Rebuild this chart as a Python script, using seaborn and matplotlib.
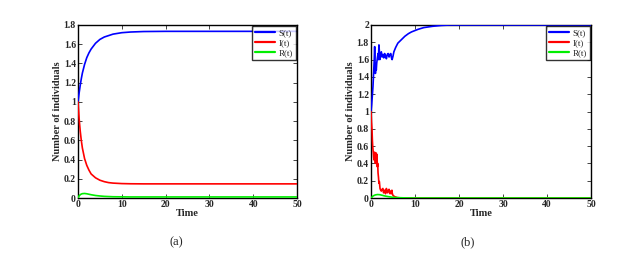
import numpy as np
import pandas as pd
import matplotlib
matplotlib.use("Agg")
import matplotlib.pyplot as plt
import seaborn as sns

# -----------------------------
# DATA
# -----------------------------
t_a = [0, 0.25, 0.5, 0.75, 1, 1.5, 2, 2.5, 3, 4, 5, 6, 7, 8, 10, 12, 15, 20, 30, 40, 50]
S_a = [1.0, 1.09, 1.17, 1.24, 1.30, 1.39, 1.46, 1.51, 1.55, 1.61, 1.65, 1.675, 1.69, 1.705, 1.72,
       1.727, 1.732, 1.734, 1.734, 1.734, 1.734]
I_a = [1.0, 0.83, 0.70, 0.60, 0.52, 0.41, 0.34, 0.29, 0.25, 0.21, 0.185, 0.17, 0.16, 0.155, 0.15,
       0.148, 0.147, 0.147, 0.147, 0.147, 0.147]
R_a = [0.0, 0.022, 0.034, 0.041, 0.045, 0.047, 0.044, 0.039, 0.034, 0.026, 0.021, 0.017, 0.015, 0.013,
       0.012, 0.011, 0.011, 0.011, 0.011, 0.011, 0.011]

tS_b = [0, 0.15, 0.3, 0.45, 0.6, 0.75, 0.83, 0.92, 1.0, 1.1, 1.2, 1.3, 1.45, 1.6, 1.7, 1.8, 1.9, 2.0,
        2.15, 2.35, 2.5, 2.7, 2.9, 3.1, 3.3, 3.5, 3.7, 3.9, 4.1, 4.3, 4.5, 4.65, 4.8, 5.0, 5.2, 5.6,
        6.1, 6.9, 7.7, 8.5, 9.2, 10.7, 12, 14, 16, 18, 20, 30, 40, 50]
S_b = [1.0, 1.08, 1.18, 1.29, 1.45, 1.62, 1.75, 1.58, 1.44, 1.52, 1.48, 1.56, 1.62, 1.67, 1.60, 1.77,
       1.70, 1.60, 1.66, 1.69, 1.63, 1.66, 1.62, 1.67, 1.64, 1.61, 1.66, 1.67, 1.63, 1.66, 1.67, 1.62,
       1.60, 1.64, 1.69, 1.74, 1.79, 1.83, 1.87, 1.90, 1.92, 1.95, 1.97, 1.985, 1.995, 2.0, 2.0, 2.0,
       2.0, 2.0]

tI_b = [0, 0.1, 0.23, 0.32, 0.4, 0.47, 0.53, 0.6, 0.68, 0.76, 0.83, 0.92, 1.0, 1.08, 1.15, 1.2, 1.3,
        1.37, 1.44, 1.52, 1.6, 1.7, 1.8, 1.9, 2.05, 2.2, 2.35, 2.5, 2.7, 2.85, 3.0, 3.1, 3.3, 3.5,
        3.6, 3.8, 3.9, 4.1, 4.3, 4.45, 4.6, 4.75, 4.8, 5.0, 5.4, 6.0, 7.0, 50]
I_b = [1.0, 0.88, 0.79, 0.66, 0.59, 0.55, 0.52, 0.47, 0.44, 0.49, 0.53, 0.45, 0.40, 0.46, 0.42, 0.52,
       0.44, 0.50, 0.36, 0.40, 0.29, 0.24, 0.17, 0.19, 0.11, 0.09, 0.08, 0.10, 0.11, 0.06, 0.07, 0.09,
       0.05, 0.11, 0.07, 0.06, 0.09, 0.10, 0.05, 0.08, 0.05, 0.09, 0.06, 0.03, 0.015, 0.005, 0.0, 0.0]

tR_b = [0, 0.5, 1, 1.5, 2, 2.5, 3, 4, 5, 6, 8, 10, 50]
R_b = [0.0, 0.025, 0.036, 0.04, 0.038, 0.032, 0.025, 0.015, 0.008, 0.004, 0.001, 0.0, 0.0]

LABELS = ["S(t)", "I(t)", "R(t)"]
COLORS = ["#0000ff", "#ff0000", "#00ee00"]

# -----------------------------
# STYLE
# -----------------------------
sns.set_style("ticks")
plt.rcParams["font.family"] = ["Liberation Serif", "DejaVu Serif"]


def fmt(v):
    s = f"{v:.1f}"
    return s[:-2] if s.endswith(".0") else s


def draw(ax, series, ymax):
    for (t, y), lab, col in zip(series, LABELS, COLORS):
        df = pd.DataFrame({"Time": t, "val": y})
        sns.lineplot(data=df, x="Time", y="val", ax=ax, color=col, lw=1.2, label=lab,
                     zorder=3, estimator=None, sort=False)
    ax.set_xlim(0, 50)
    ax.set_ylim(0, ymax)
    ax.set_xticks(range(0, 51, 10))
    yt = np.round(np.arange(0, ymax + 0.01, 0.2), 1)
    ax.set_yticks(yt)
    ax.set_yticklabels([fmt(v) for v in yt])
    ax.tick_params(direction="in", top=True, right=True, labelsize=7, length=3, width=0.6, pad=1.5)
    for lbl in ax.get_xticklabels() + ax.get_yticklabels():
        lbl.set_fontweight("bold")
    for sp in ax.spines.values():
        sp.set_linewidth(1.0)
        sp.set_color("black")
    ax.set_xlabel("Time", fontsize=7.5, labelpad=0, fontweight="bold")
    ax.set_ylabel("Number of individuals", fontsize=7.5, labelpad=1, fontweight="bold")
    leg = ax.legend(loc="upper right", fontsize=6.5, frameon=True, fancybox=False,
                    borderaxespad=0.1, handlelength=2.2, handletextpad=0.4,
                    labelspacing=0.15, borderpad=0.35)
    leg.get_frame().set_edgecolor("black")
    leg.get_frame().set_linewidth(1.0)
    for line in leg.get_lines():
        line.set_linewidth(1.6)


fig = plt.figure(figsize=(6.39, 2.6), dpi=100)
W, H = 639, 260
ax1 = fig.add_axes([78 / W, 1 - 198 / H, 219 / W, 173 / H])
ax2 = fig.add_axes([371 / W, 1 - 198 / H, 220 / W, 173 / H])

draw(ax1, [(t_a, S_a), (t_a, I_a), (t_a, R_a)], 1.8)
draw(ax2, [(tS_b, S_b), (tI_b, I_b), (tR_b, R_b)], 2.0)

fig.text(176 / W, 1 - 242 / H, "(a)", ha="center", va="center", fontsize=9)
fig.text(468 / W, 1 - 242 / H, "(b)", ha="center", va="center", fontsize=9)

fig.savefig("out.png", dpi=100)
